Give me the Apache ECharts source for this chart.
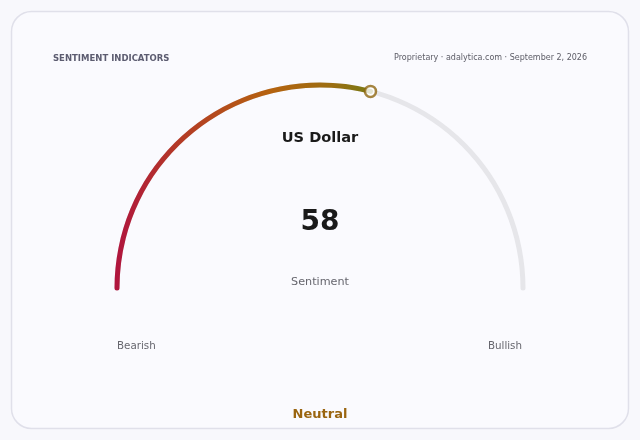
<!DOCTYPE html>
<html><head><meta charset="utf-8">
<script src="https://cdn.jsdelivr.net/npm/echarts@6/dist/echarts.min.js"></script>
<style>html,body{margin:0;padding:0;background:#f8f8fc;}#c{width:640px;height:440px;}</style>
</head><body><div id="c"></div>
<script>
const title = 'SENTIMENT INDICATORS';
const source = 'Proprietary · adalytica.com · September 2, 2026';
const assetName = 'US Dollar';
const sentimentValue = [58];
const scaleRange = [0, 100];
const endLabels = ['Bearish', 'Bullish'];
const sentimentLabel = 'Neutral';
const valueCaption = 'Sentiment';

const FONT = 'DejaVu Sans';
const chart = echarts.init(document.getElementById('c'), null, {renderer: 'canvas'});
const cx = 320, cy = 288, R = 203, W = 5;
const grad = new echarts.graphic.LinearGradient(0, 0, 1, 0, [
  {offset: 0, color: '#b0143e'},
  {offset: 0.25, color: '#b43a26'},
  {offset: 0.6, color: '#b5620f'},
  {offset: 0.85, color: '#9a6e12'},
  {offset: 1, color: '#757a14'}
]);
chart.setOption({
  animation: false,
  graphic: [
    {type: 'rect', z: -10, shape: {x: 11.5, y: 11.5, width: 617, height: 417, r: 20},
     style: {fill: '#fafafe', stroke: '#e0e0ea', lineWidth: 1.5}},
    {type: 'text', left: 53, top: 54, style: {text: title, font: 'bold 8.5px "DejaVu Sans"', fill: '#5c5c70'}},
    {type: 'text', right: 53, top: 54, style: {text: source, font: '8px "DejaVu Sans"', fill: '#5c5c66', textAlign: 'right'}},
    {type: 'text', left: 117, top: 341, style: {text: endLabels[0], font: '10.3px "DejaVu Sans"', fill: '#66666e'}},
    {type: 'text', right: 118, top: 341, style: {text: endLabels[1], font: '10.3px "DejaVu Sans"', fill: '#66666e'}},
    {type: 'text', left: 'center', top: 277, style: {text: valueCaption, font: '11.2px "DejaVu Sans"', fill: '#66666e'}},
    {type: 'text', left: 'center', top: 408, style: {text: sentimentLabel, font: 'bold 13px "DejaVu Sans"', fill: '#9a6510'}}
  ],
  polar: {center: [cx, cy], radius: [0, R]},
  angleAxis: {type: 'value', min: scaleRange[0], max: scaleRange[1], startAngle: 180, endAngle: 0, clockwise: true, show: false},
  radiusAxis: {type: 'value', min: 0, max: 1, show: false},
  series: [
    {
      type: 'gauge', center: [cx, cy], radius: R + W / 2,
      startAngle: 180, endAngle: 0, min: scaleRange[0], max: scaleRange[1],
      axisLine: {roundCap: true, lineStyle: {width: W, color: [[1, '#e6e6ea']]}},
      progress: {show: true, roundCap: true, width: W, itemStyle: {color: grad}},
      pointer: {show: false}, axisTick: {show: false}, splitLine: {show: false}, axisLabel: {show: false},
      anchor: {show: false},
      title: {show: true, offsetCenter: [0, -150], fontFamily: FONT, fontSize: 14.6, fontWeight: 'bold', color: '#1a1a1a'},
      detail: {show: true, offsetCenter: [0, -65], fontFamily: FONT, fontSize: 28, fontWeight: 'bold', color: '#1a1a1a'},
      data: [{value: sentimentValue[0], name: assetName}]
    },
    {
      type: 'scatter', coordinateSystem: 'polar', symbol: 'circle', symbolSize: 11, z: 10,
      itemStyle: {color: '#ffffff', borderColor: '#8f6610', borderWidth: 2.5},
      data: [[1, sentimentValue[0]]]
    }
  ]
});
</script></body></html>
